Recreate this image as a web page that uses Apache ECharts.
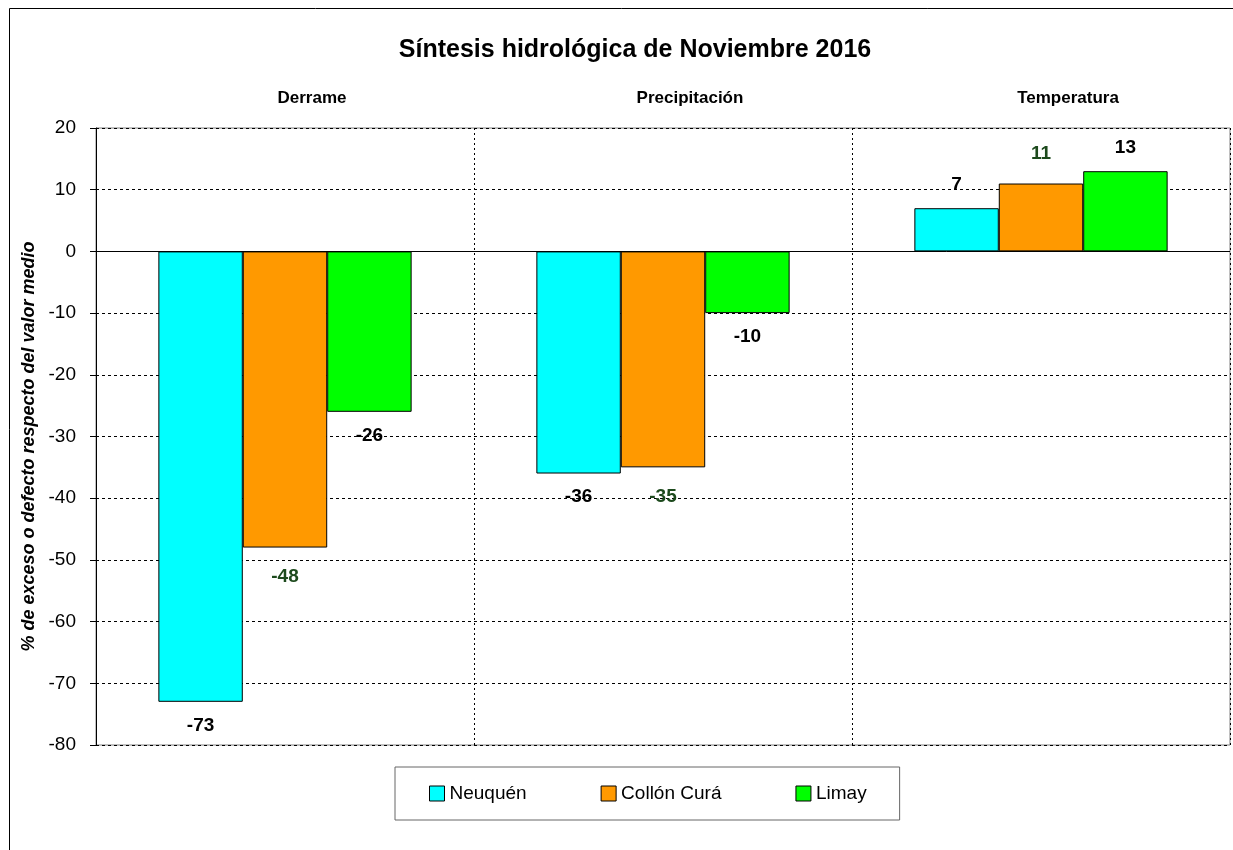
<!DOCTYPE html>
<html>
<head>
<meta charset="utf-8">
<script src="https://cdn.jsdelivr.net/npm/echarts@6/dist/echarts.min.js"></script>
<style>
  html, body { margin: 0; padding: 0; background: #fff; }
  #chart { width: 1233px; height: 850px; }
</style>
</head>
<body>
<div id="chart"></div>
<script>
const categories = ["Derrame", "Precipitación", "Temperatura"];
const neuquen = [-73, -36, 7];
const collonCura = [-48, -35, 11];
const limay = [-26, -10, 13];
const seriesNames = ["Neuquén", "Collón Curá", "Limay"];
const colors = ["#00ffff", "#ff9900", "#00ff00"];
const labelColors = ["#000000", "#1d4a1d", "#000000"];

const font = "'Liberation Sans', Arial, sans-serif";

function barSeries(name, values, i) {
  return {
    name,
    type: "bar",
    barGap: 0,
    barCategoryGap: "33%",
    itemStyle: { color: colors[i], borderColor: "#000", borderWidth: 1 },
    label: {
      show: true,
      fontFamily: font,
      fontWeight: "bold",
      fontSize: 19,
      color: labelColors[i],
      distance: i === 1 ? 20 : 14,
    },
    data: values.map((v) => ({ value: v, label: { position: v < 0 ? "bottom" : "top" } })),
  };
}

const series = [
  barSeries(seriesNames[0], neuquen, 0),
  barSeries(seriesNames[1], collonCura, 1),
  barSeries(seriesNames[2], limay, 2),
];
// linea del cero
series[0].markLine = {
  silent: true,
  symbol: "none",
  label: { show: false },
  lineStyle: { color: "#000", type: "solid", width: 1 },
  data: [{ yAxis: 0 }],
};

const chart = echarts.init(document.getElementById("chart"));
chart.setOption({
  backgroundColor: "#fff",
  animation: false,
  textStyle: { fontFamily: font },
  title: {
    text: "Síntesis hidrológica de Noviembre 2016",
    left: 630,
    textAlign: "center",
    top: 33,
    textStyle: { fontFamily: font, fontWeight: "bold", fontSize: 25, color: "#000" },
  },
  graphic: [
    {
      type: "rect",
      shape: { x: 9.5, y: 8.5, width: 1400, height: 1000 },
      style: { fill: "none", stroke: "#000", lineWidth: 1 },
      silent: true,
      z: -1,
    },
  ],
  legend: {
    left: 395,
    top: 767,
    padding: [17, 33, 17, 34],
    itemGap: 74,
    itemWidth: 15,
    itemHeight: 15,
    icon: "rect",
    borderColor: "#666",
    borderWidth: 1,
    itemStyle: { borderColor: "#000", borderWidth: 1 },
    textStyle: { fontFamily: font, fontSize: 19, color: "#000" },
    data: seriesNames,
  },
  grid: {
    left: 96,
    top: 128,
    right: 3,
    bottom: 105,
    show: true,
    borderColor: "#808080",
    borderWidth: 1,
  },
  xAxis: {
    type: "category",
    data: categories,
    position: "top",
    axisLine: { show: false },
    axisTick: { show: false },
    axisLabel: {
      margin: 21,
      padding: [0, 0, 0, 54],
      fontFamily: font,
      fontWeight: "bold",
      fontSize: 17,
      color: "#000",
    },
    splitLine: { show: true, lineStyle: { color: "#000", type: [2, 3], width: 1 } },
  },
  yAxis: {
    type: "value",
    min: -80,
    max: 20,
    interval: 10,
    name: "% de exceso o defecto respecto del valor medio",
    nameLocation: "middle",
    nameRotate: 90,
    nameGap: 53,
    nameTextStyle: {
      fontFamily: font,
      fontStyle: "italic",
      fontWeight: "bold",
      fontSize: 18,
      color: "#000",
      padding: [0, 0, 0, -20],
    },
    axisLine: { show: true, onZero: false, lineStyle: { color: "#000", width: 1 } },
    axisTick: { show: true, length: 6, lineStyle: { color: "#000" } },
    axisLabel: { margin: 20, fontFamily: font, fontSize: 19, color: "#000" },
    splitLine: { show: true, lineStyle: { color: "#000", type: [3, 3], width: 1 } },
  },
  series,
});
</script>
</body>
</html>
